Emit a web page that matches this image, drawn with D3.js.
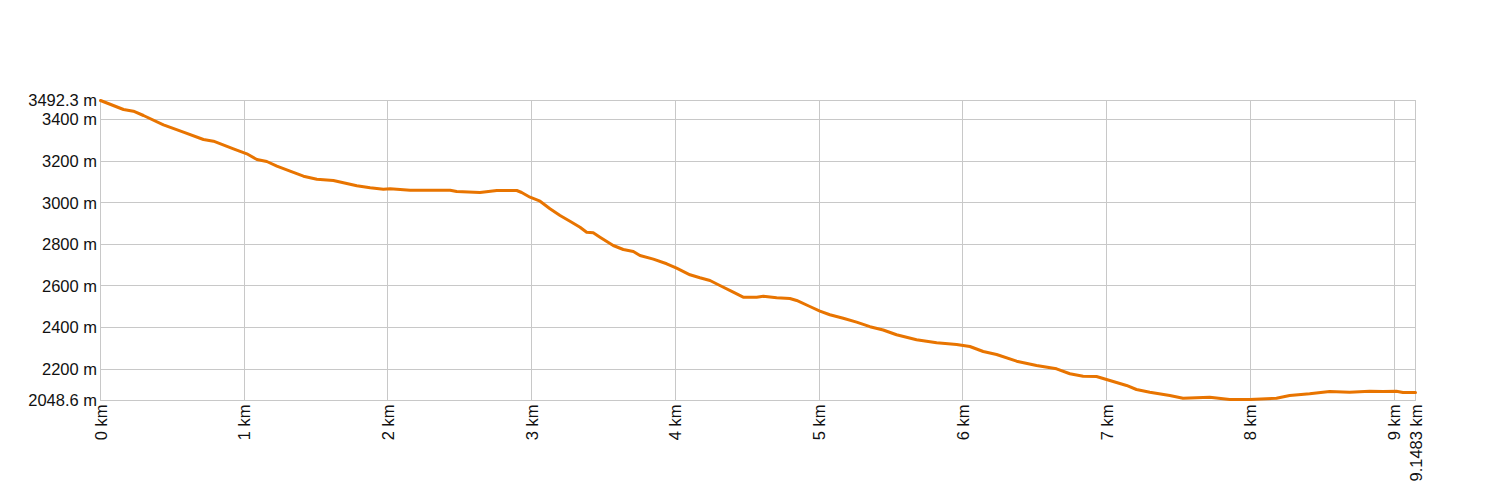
<!DOCTYPE html>
<html>
<head>
<meta charset="utf-8">
<script src="https://cdn.jsdelivr.net/npm/d3@7"></script>
<style>
  html, body { margin: 0; padding: 0; background: #fff; }
  svg text { font-family: "Liberation Sans", Arial, sans-serif; font-size: 16.5px; fill: #111; }
</style>
</head>
<body>
<svg id="chart" width="1500" height="500"></svg>
<script>
// Distance along the track (km)
const distanceKm = [0.000,0.160,0.229,0.299,0.438,0.577,0.716,0.786,0.925,1.018,1.088,1.157,1.227,1.319,1.412,1.505,1.620,1.690,1.783,1.876,1.968,2.015,2.154,2.432,2.478,2.640,2.757,2.896,2.930,2.988,3.058,3.127,3.197,3.266,3.336,3.382,3.428,3.475,3.567,3.637,3.707,3.753,3.846,3.939,4.008,4.101,4.170,4.240,4.309,4.402,4.471,4.565,4.611,4.704,4.796,4.843,4.935,5.005,5.074,5.167,5.260,5.353,5.445,5.538,5.677,5.817,5.956,6.048,6.141,6.234,6.373,6.512,6.651,6.744,6.836,6.929,7.022,7.138,7.207,7.300,7.439,7.531,7.717,7.856,7.995,8.181,8.273,8.412,8.551,8.690,8.829,8.922,9.015,9.061,9.1483];
// Elevation (m)
const elevationM = [3492.3,3449.0,3440.8,3420.1,3375.4,3339.8,3304.6,3296.5,3259.9,3235.8,3208.4,3198.8,3176.2,3152.1,3128.0,3113.6,3107.3,3096.3,3081.8,3072.2,3065.5,3067.4,3060.7,3060.7,3054.4,3049.6,3059.2,3059.2,3049.6,3027.0,3007.7,2971.2,2938.9,2911.5,2882.6,2858.6,2855.7,2834.5,2794.6,2775.3,2765.7,2746.4,2728.7,2706.5,2685.3,2653.6,2639.1,2626.1,2602.1,2569.8,2545.8,2545.8,2550.6,2542.9,2539.5,2529.9,2501.0,2478.4,2461.1,2444.7,2425.5,2403.8,2387.9,2364.9,2340.7,2326.3,2318.2,2308.5,2284.5,2270.0,2237.8,2217.1,2201.2,2177.2,2165.6,2164.2,2144.9,2120.9,2101.6,2088.6,2072.8,2059.7,2064.6,2053.5,2053.5,2059.7,2072.8,2080.9,2092.0,2088.6,2093.5,2092.0,2093.5,2087.2,2087.2];
// Axis ticks
const xTicks = [0,1,2,3,4,5,6,7,8,9,9.1483];
const xTickLabels = ["0 km","1 km","2 km","3 km","4 km","5 km","6 km","7 km","8 km","9 km","9.1483 km"];
const yTicks = [2048.6,2200,2400,2600,2800,3000,3200,3400,3492.3];
const yTickLabels = ["2048.6 m","2200 m","2400 m","2600 m","2800 m","3000 m","3200 m","3400 m","3492.3 m"];

const margin = {left: 100.5, right: 84.5, top: 100.5, bottom: 99.5};
const W = 1500, H = 500;
const svg = d3.select("#chart");

const x = d3.scaleLinear().domain([0, 9.1483]).range([margin.left, W - margin.right]);
const y = d3.scaleLinear().domain([2048.6, 3492.3]).range([H - margin.bottom, margin.top]);

const grid = svg.append("g").attr("stroke", "#c8c8c8").attr("stroke-width", 1).attr("shape-rendering", "crispEdges");
grid.selectAll("line.h").data(yTicks).join("line")
  .attr("x1", x(0)).attr("x2", x(9.1483))
  .attr("y1", d => y(d)).attr("y2", d => y(d));
grid.selectAll("line.v").data(xTicks).join("line")
  .attr("y1", y(3492.3)).attr("y2", y(2048.6))
  .attr("x1", d => x(d)).attr("x2", d => x(d));

// Y labels
svg.append("g").selectAll("text").data(yTicks).join("text")
  .attr("x", margin.left - 3.5)
  .attr("y", d => y(d))
  .attr("dy", "0.35em")
  .attr("text-anchor", "end")
  .text((d, i) => yTickLabels[i]);

// X labels (rotated)
svg.append("g").selectAll("text").data(xTicks).join("text")
  .attr("transform", d => `translate(${x(d) + 6},${y(2048.6) + 4}) rotate(-90)`)
  .attr("text-anchor", "end")
  .text((d, i) => xTickLabels[i]);

const pts = distanceKm.map((d, i) => [d, elevationM[i]]);
const line = d3.line().x(d => x(d[0])).y(d => y(d[1]));
svg.append("path")
  .datum(pts)
  .attr("d", line)
  .attr("fill", "none")
  .attr("stroke", "#e87400")
  .attr("stroke-width", 3)
  .attr("stroke-linejoin", "round")
  .attr("stroke-linecap", "round");
</script>
</body>
</html>
